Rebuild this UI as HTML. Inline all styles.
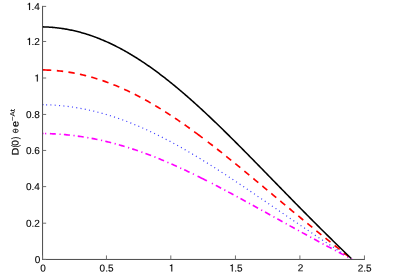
<!DOCTYPE html>
<html><head><meta charset="utf-8"><style>
html,body{margin:0;padding:0;background:#fff;}
svg{display:block;will-change:transform}
text{font-family:"Liberation Sans",sans-serif;font-size:10px;fill:#000;text-rendering:geometricPrecision;stroke:#000;stroke-width:0.12px}
</style></head><body>
<svg width="393" height="274" viewBox="0 0 393 274">
<defs><filter id="gs" x="0" y="0" width="393" height="274" filterUnits="userSpaceOnUse"><feOffset dx="0" dy="0"/></filter></defs>
<rect width="393" height="274" fill="#fff"/>
<g>
<path d="M42.44 133.51 L43.54 133.52 M45.04 133.55 L46.24 133.57 M49.90 133.68 L51.40 133.74 L52.90 133.81 L54.39 133.88 L55.89 133.97 M59.48 134.20 L60.68 134.29 M63.87 134.54 L65.36 134.68 L66.86 134.82 L68.35 134.97 L69.84 135.13 M73.42 135.54 L74.61 135.68 M77.78 136.10 L79.27 136.31 L80.75 136.52 L82.23 136.75 L83.72 136.98 M87.27 137.57 L88.45 137.77 M91.60 138.35 L93.07 138.63 L94.54 138.92 L96.01 139.21 L97.48 139.51 M101.00 140.27 L102.17 140.53 M105.29 141.26 L106.75 141.60 L108.21 141.96 L109.66 142.32 L111.12 142.69 M114.60 143.61 L115.76 143.92 M118.84 144.78 L120.28 145.19 L121.72 145.61 L123.16 146.04 L124.60 146.47 M128.04 147.53 L129.18 147.89 M132.23 148.88 L133.65 149.35 L135.07 149.82 L136.49 150.30 L137.91 150.79 M141.31 151.98 L142.44 152.38 M145.45 153.48 L146.86 154.00 L148.26 154.52 L149.66 155.05 L151.06 155.59 M154.42 156.89 L155.54 157.33 M158.51 158.52 L159.90 159.09 L161.28 159.66 L162.67 160.23 L164.05 160.81 M167.37 162.21 L168.47 162.69 M171.41 163.96 L172.78 164.56 L174.15 165.17 L175.52 165.78 L176.89 166.39 M180.17 167.88 L181.26 168.38 M184.16 169.73 L185.52 170.36 L186.88 171.00 L188.24 171.64 L189.59 172.29 M192.84 173.84 L193.92 174.37 M197.55 176.14 L198.89 176.80 L200.24 177.47 L201.58 178.14 L202.92 178.81 L204.26 179.48 L205.60 180.16 L206.94 180.83 M211.84 183.34 L212.90 183.88 M215.80 185.38 L217.13 186.08 L218.46 186.77 L219.79 187.47 L221.12 188.16 M224.30 189.85 L225.36 190.41 M228.18 191.91 L229.51 192.62 L230.83 193.33 L232.15 194.04 L233.47 194.75 M236.64 196.46 L237.69 197.03 M240.50 198.56 L241.82 199.28 L243.14 199.99 L244.46 200.71 L245.77 201.43 M248.93 203.16 L249.98 203.74 M252.78 205.29 L254.10 206.01 L255.41 206.73 L256.72 207.46 L258.04 208.19 M261.19 209.93 L262.23 210.51 M265.03 212.06 L266.35 212.79 L267.66 213.52 L268.97 214.24 L270.28 214.97 M273.43 216.72 L274.48 217.30 M277.28 218.85 L278.59 219.58 L279.90 220.31 L281.21 221.04 L282.52 221.76 M285.67 223.51 L286.72 224.09 M289.52 225.64 L290.83 226.36 L292.15 227.09 L293.46 227.81 L294.77 228.54 M297.93 230.27 L298.98 230.85 M301.79 232.39 L303.10 233.11 L304.42 233.83 L305.73 234.55 L307.05 235.27 M310.21 236.99 L311.26 237.57 M314.08 239.09 L315.40 239.81 L316.72 240.52 L318.04 241.23 L319.36 241.95 M322.53 243.65 L323.58 244.22 M326.40 245.73 L327.73 246.44 L329.05 247.14 L330.37 247.85 L331.70 248.55 M334.88 250.24 L335.94 250.80 M338.77 252.29 L340.10 252.99 L341.43 253.69 L342.75 254.39 L344.08 255.08 M347.27 256.75 L348.34 257.30 M351.18 258.78 L352.03 259.22 " fill="none" stroke="#ff00ff" stroke-width="1.65"/>
<polyline points="42.24,104.70 43.27,104.72 44.31,104.74 45.34,104.76 46.37,104.79 47.41,104.82 48.44,104.86 49.47,104.90 50.51,104.95 51.54,105.00 52.57,105.06 53.61,105.12 54.64,105.18 55.68,105.25 56.71,105.33 57.74,105.41 58.78,105.49 59.81,105.58 60.84,105.68 61.88,105.77 62.91,105.88 63.94,105.99 64.98,106.10 66.01,106.22 67.04,106.34 68.08,106.46 69.11,106.60 70.14,106.73 71.18,106.87 72.21,107.02 73.24,107.17 74.28,107.33 75.31,107.49 76.34,107.65 77.38,107.82 78.41,108.00 79.45,108.18 80.48,108.36 81.51,108.55 82.55,108.75 83.58,108.95 84.61,109.15 85.65,109.36 86.68,109.57 87.71,109.79 88.75,110.01 89.78,110.24 90.81,110.47 91.85,110.71 92.88,110.95 93.91,111.20 94.95,111.45 95.98,111.71 97.01,111.97 98.05,112.23 99.08,112.50 100.12,112.78 101.15,113.06 102.18,113.34 103.22,113.63 104.25,113.93 105.28,114.22 106.32,114.53 107.35,114.84 108.38,115.15 109.42,115.46 110.45,115.79 111.48,116.11 112.52,116.44 113.55,116.78 114.58,117.12 115.62,117.46 116.65,117.81 117.68,118.16 118.72,118.52 119.75,118.88 120.78,119.25 121.82,119.62 122.85,119.99 123.89,120.37 124.92,120.76 125.95,121.15 126.99,121.54 128.02,121.93 129.05,122.34 130.09,122.74 131.12,123.15 132.15,123.56 133.19,123.98 134.22,124.40 135.25,124.83 136.29,125.26 137.32,125.69 138.35,126.13 139.39,126.57 140.42,127.02 141.45,127.47 142.49,127.93 143.52,128.38 144.55,128.85 145.59,129.31 146.62,129.78 147.66,130.26 148.69,130.73 149.72,131.21 150.76,131.70 151.79,132.19 152.82,132.68 153.86,133.18 154.89,133.68 155.92,134.18 156.96,134.69 157.99,135.20 159.02,135.71 160.06,136.23 161.09,136.75 162.12,137.27 163.16,137.80 164.19,138.33 165.22,138.87 166.26,139.41 167.29,139.95 168.32,140.49 169.36,141.04 170.39,141.59 171.43,142.14 172.46,142.70 173.49,143.26 174.53,143.83 175.56,144.39 176.59,144.96 177.63,145.53 178.66,146.11 179.69,146.69 180.73,147.27 181.76,147.85 182.79,148.44 183.83,149.03 184.86,149.62 185.89,150.22 186.93,150.81 187.96,151.42 188.99,152.02 190.03,152.62 191.06,153.23 192.09,153.84 193.13,154.46 194.16,155.07 195.20,155.69 196.23,156.31 197.26,156.93 198.30,157.56 199.33,158.19 200.36,158.82 201.40,159.45 202.43,160.08 203.46,160.72 204.50,161.36 205.53,162.00 206.56,162.64 207.60,163.28 208.63,163.93 209.66,164.58 210.70,165.23 211.73,165.88 212.76,166.54 213.80,167.19 214.83,167.85 215.87,168.51 216.90,169.17 217.93,169.83 218.97,170.50 220.00,171.16 221.03,171.83 222.07,172.50 223.10,173.17 224.13,173.84 225.17,174.52 226.20,175.19 227.23,175.87 228.27,176.55 229.30,177.22 230.33,177.90 231.37,178.59 232.40,179.27 233.43,179.95 234.47,180.64 235.50,181.32 236.53,182.01 237.57,182.70 238.60,183.39 239.64,184.08 240.67,184.77 241.70,185.46 242.74,186.15 243.77,186.85 244.80,187.54 245.84,188.24 246.87,188.93 247.90,189.63 248.94,190.33 249.97,191.03 251.00,191.72 252.04,192.42 253.07,193.12 254.10,193.82 255.14,194.52 256.17,195.23 257.20,195.93 258.24,196.63 259.27,197.33 260.30,198.04 261.34,198.74 262.37,199.44 263.41,200.15 264.44,200.85 265.47,201.56 266.51,202.26 267.54,202.96 268.57,203.67 269.61,204.37 270.64,205.08 271.67,205.78 272.71,206.49 273.74,207.19 274.77,207.90 275.81,208.60 276.84,209.31 277.87,210.01 278.91,210.72 279.94,211.42 280.97,212.13 282.01,212.83 283.04,213.54 284.07,214.24 285.11,214.94 286.14,215.65 287.18,216.35 288.21,217.05 289.24,217.76 290.28,218.46 291.31,219.16 292.34,219.86 293.38,220.56 294.41,221.26 295.44,221.96 296.48,222.66 297.51,223.36 298.54,224.06 299.58,224.76 300.61,225.45 301.64,226.15 302.68,226.85 303.71,227.54 304.74,228.24 305.78,228.93 306.81,229.62 307.84,230.32 308.88,231.01 309.91,231.70 310.95,232.39 311.98,233.08 313.01,233.77 314.05,234.46 315.08,235.15 316.11,235.84 317.15,236.52 318.18,237.21 319.21,237.89 320.25,238.58 321.28,239.26 322.31,239.94 323.35,240.63 324.38,241.31 325.41,241.99 326.45,242.67 327.48,243.35 328.51,244.02 329.55,244.70 330.58,245.38 331.62,246.05 332.65,246.73 333.68,247.40 334.72,248.07 335.75,248.75 336.78,249.42 337.82,250.09 338.85,250.76 339.88,251.42 340.92,252.09 341.95,252.76 342.98,253.42 344.02,254.09 345.05,254.75 346.08,255.42 347.12,256.08 348.15,256.74 349.18,257.40 350.22,258.06 351.25,258.72" fill="none" stroke="#3c3cff" stroke-width="1.2" stroke-dasharray="1.05,3.28" stroke-dashoffset="0.5"/>
<line x1="42.6" y1="104.70" x2="43.5" y2="104.72" stroke="#3c3cff" stroke-width="1.2"/>
<path d="M42.34 69.91 L44.13 69.94 L45.92 70.00 L47.71 70.07 L49.50 70.15 L51.28 70.26 M56.82 70.68 L58.41 70.84 L60.00 71.00 L61.59 71.19 L63.18 71.38 M68.43 72.12 L70.01 72.37 L71.58 72.64 L73.16 72.92 L74.73 73.21 M79.92 74.27 L81.49 74.62 L83.04 74.98 L84.60 75.35 L86.15 75.74 M91.27 77.11 L92.81 77.54 L94.35 78.00 L95.88 78.46 L97.41 78.93 M102.44 80.58 L103.96 81.11 L105.46 81.64 L106.97 82.18 L108.47 82.74 M113.41 84.65 L114.90 85.24 L116.38 85.85 L117.85 86.47 L119.33 87.10 M124.17 89.24 L125.63 89.90 L127.08 90.58 L128.53 91.26 L129.97 91.95 M134.72 94.30 L136.15 95.02 L137.57 95.75 L138.99 96.49 L140.40 97.24 M145.06 99.77 L146.46 100.54 L147.86 101.33 L149.25 102.12 L150.64 102.91 M155.21 105.60 L156.58 106.42 L157.95 107.24 L159.32 108.08 L160.68 108.92 M165.17 111.73 L166.52 112.59 L167.86 113.46 L169.21 114.33 L170.55 115.20 M174.96 118.13 L176.29 119.03 L177.61 119.92 L178.94 120.83 L180.25 121.73 M184.60 124.76 L185.91 125.68 L187.22 126.61 L188.52 127.54 L189.82 128.47 M194.19 131.64 L195.41 132.54 L196.63 133.43 L197.85 134.33 L199.06 135.24 L200.28 136.14 L201.49 137.05 L202.70 137.96 M207.80 141.83 L209.07 142.81 L210.33 143.78 L211.60 144.76 L212.86 145.74 M217.04 149.00 L218.30 149.99 L219.56 150.98 L220.81 151.98 L222.06 152.97 M226.21 156.28 L227.46 157.28 L228.70 158.28 L229.95 159.28 L231.19 160.29 M235.31 163.63 L236.55 164.64 L237.79 165.65 L239.03 166.66 L240.27 167.67 M244.36 171.04 L245.60 172.06 L246.83 173.07 L248.06 174.09 L249.30 175.11 M253.38 178.50 L254.61 179.52 L255.84 180.54 L257.07 181.56 L258.30 182.59 M262.37 185.98 L263.60 187.01 L264.83 188.03 L266.06 189.06 L267.28 190.08 M271.35 193.48 L272.58 194.51 L273.81 195.53 L275.03 196.56 L276.26 197.59 M280.33 200.98 L281.56 202.01 L282.78 203.03 L284.01 204.06 L285.24 205.08 M289.31 208.48 L290.54 209.50 L291.77 210.52 L293.00 211.55 L294.23 212.57 M298.32 215.95 L299.55 216.97 L300.78 217.99 L302.01 219.01 L303.25 220.03 M307.34 223.40 L308.58 224.41 L309.82 225.43 L311.05 226.44 L312.29 227.45 M316.40 230.80 L317.64 231.81 L318.88 232.82 L320.12 233.83 L321.37 234.84 M325.49 238.17 L326.73 239.17 L327.98 240.17 L329.23 241.18 L330.48 242.18 M334.62 245.49 L335.87 246.48 L337.12 247.48 L338.37 248.47 L339.63 249.47 M343.79 252.75 L345.04 253.74 L346.30 254.73 L347.56 255.72 L348.82 256.71" fill="none" stroke="#ff0000" stroke-width="1.65"/>
<polyline points="42.24,26.86 43.27,26.88 44.31,26.91 45.34,26.94 46.37,26.99 47.41,27.04 48.44,27.09 49.47,27.16 50.51,27.23 51.54,27.30 52.57,27.39 53.61,27.48 54.64,27.58 55.68,27.69 56.71,27.80 57.74,27.92 58.78,28.04 59.81,28.18 60.84,28.32 61.88,28.47 62.91,28.62 63.94,28.78 64.98,28.95 66.01,29.13 67.04,29.31 68.08,29.51 69.11,29.70 70.14,29.91 71.18,30.12 72.21,30.34 73.24,30.57 74.28,30.80 75.31,31.04 76.34,31.29 77.38,31.55 78.41,31.81 79.45,32.08 80.48,32.36 81.51,32.65 82.55,32.94 83.58,33.24 84.61,33.54 85.65,33.86 86.68,34.18 87.71,34.51 88.75,34.84 89.78,35.18 90.81,35.53 91.85,35.89 92.88,36.25 93.91,36.63 94.95,37.00 95.98,37.39 97.01,37.78 98.05,38.18 99.08,38.59 100.12,39.00 101.15,39.42 102.18,39.85 103.22,40.28 104.25,40.73 105.28,41.18 106.32,41.63 107.35,42.09 108.38,42.56 109.42,43.04 110.45,43.52 111.48,44.01 112.52,44.51 113.55,45.01 114.58,45.52 115.62,46.04 116.65,46.57 117.68,47.10 118.72,47.63 119.75,48.18 120.78,48.73 121.82,49.29 122.85,49.85 123.89,50.42 124.92,51.00 125.95,51.58 126.99,52.17 128.02,52.77 129.05,53.37 130.09,53.98 131.12,54.60 132.15,55.22 133.19,55.85 134.22,56.48 135.25,57.12 136.29,57.77 137.32,58.42 138.35,59.08 139.39,59.75 140.42,60.42 141.45,61.09 142.49,61.78 143.52,62.47 144.55,63.16 145.59,63.86 146.62,64.57 147.66,65.28 148.69,66.00 149.72,66.72 150.76,67.45 151.79,68.19 152.82,68.93 153.86,69.67 154.89,70.43 155.92,71.18 156.96,71.95 157.99,72.71 159.02,73.49 160.06,74.26 161.09,75.05 162.12,75.84 163.16,76.63 164.19,77.43 165.22,78.23 166.26,79.04 167.29,79.86 168.32,80.68 169.36,81.50 170.39,82.33 171.43,83.16 172.46,84.00 173.49,84.84 174.53,85.69 175.56,86.54 176.59,87.40 177.63,88.26 178.66,89.12 179.69,89.99 180.73,90.87 181.76,91.75 182.79,92.63 183.83,93.51 184.86,94.41 185.89,95.30 186.93,96.20 187.96,97.10 188.99,98.01 190.03,98.92 191.06,99.84 192.09,100.75 193.13,101.68 194.16,102.60 195.20,103.53 196.23,104.46 197.26,105.40 198.30,106.34 199.33,107.28 200.36,108.23 201.40,109.18 202.43,110.14 203.46,111.09 204.50,112.05 205.53,113.02 206.56,113.98 207.60,114.95 208.63,115.92 209.66,116.90 210.70,117.88 211.73,118.86 212.76,119.84 213.80,120.83 214.83,121.82 215.87,122.81 216.90,123.80 217.93,124.80 218.97,125.80 220.00,126.80 221.03,127.80 222.07,128.81 223.10,129.82 224.13,130.83 225.17,131.84 226.20,132.86 227.23,133.87 228.27,134.89 229.30,135.91 230.33,136.94 231.37,137.96 232.40,138.99 233.43,140.02 234.47,141.05 235.50,142.08 236.53,143.11 237.57,144.15 238.60,145.18 239.64,146.22 240.67,147.26 241.70,148.30 242.74,149.34 243.77,150.39 244.80,151.43 245.84,152.48 246.87,153.52 247.90,154.57 248.94,155.62 249.97,156.67 251.00,157.72 252.04,158.77 253.07,159.82 254.10,160.88 255.14,161.93 256.17,162.99 257.20,164.04 258.24,165.10 259.27,166.15 260.30,167.21 261.34,168.27 262.37,169.33 263.41,170.39 264.44,171.44 265.47,172.50 266.51,173.56 267.54,174.62 268.57,175.68 269.61,176.74 270.64,177.80 271.67,178.86 272.71,179.92 273.74,180.98 274.77,182.04 275.81,183.10 276.84,184.16 277.87,185.22 278.91,186.28 279.94,187.34 280.97,188.40 282.01,189.46 283.04,190.52 284.07,191.58 285.11,192.64 286.14,193.70 287.18,194.75 288.21,195.81 289.24,196.87 290.28,197.92 291.31,198.98 292.34,200.03 293.38,201.08 294.41,202.14 295.44,203.19 296.48,204.24 297.51,205.29 298.54,206.34 299.58,207.39 300.61,208.44 301.64,209.49 302.68,210.54 303.71,211.58 304.74,212.63 305.78,213.67 306.81,214.71 307.84,215.76 308.88,216.80 309.91,217.84 310.95,218.88 311.98,219.91 313.01,220.95 314.05,221.99 315.08,223.02 316.11,224.06 317.15,225.09 318.18,226.12 319.21,227.15 320.25,228.18 321.28,229.21 322.31,230.23 323.35,231.26 324.38,232.28 325.41,233.31 326.45,234.33 327.48,235.35 328.51,236.37 329.55,237.39 330.58,238.40 331.62,239.42 332.65,240.43 333.68,241.45 334.72,242.46 335.75,243.47 336.78,244.48 337.82,245.48 338.85,246.49 339.88,247.50 340.92,248.50 341.95,249.50 342.98,250.51 344.02,251.51 345.05,252.50 346.08,253.50 347.12,254.50 348.15,255.49 349.18,256.49 350.22,257.48 351.25,258.47" fill="none" stroke="#000" stroke-width="1.55"/>
</g>
<g>
<line x1="42.57" y1="5.9" x2="42.57" y2="259.95" stroke="#4a4a4a" stroke-width="1"/>
<line x1="42.07" y1="259.45" x2="364.94" y2="259.45" stroke="#4a4a4a" stroke-width="1"/>
<line x1="42.57" y1="259.4" x2="46.17" y2="259.4" stroke="#707070" stroke-width="1"/>
<line x1="42.57" y1="223.2" x2="46.17" y2="223.2" stroke="#707070" stroke-width="1"/>
<line x1="42.57" y1="186.6" x2="46.17" y2="186.6" stroke="#707070" stroke-width="1"/>
<line x1="42.57" y1="150.44" x2="46.17" y2="150.44" stroke="#707070" stroke-width="1"/>
<line x1="42.57" y1="114.44" x2="46.17" y2="114.44" stroke="#707070" stroke-width="1"/>
<line x1="42.57" y1="78.0" x2="46.17" y2="78.0" stroke="#707070" stroke-width="1"/>
<line x1="42.57" y1="41.47" x2="46.17" y2="41.47" stroke="#707070" stroke-width="1"/>
<line x1="42.57" y1="6.4" x2="46.17" y2="6.4" stroke="#707070" stroke-width="1"/>
<line x1="42.57" y1="259.45" x2="42.57" y2="255.45" stroke="#707070" stroke-width="1"/>
<line x1="106.44" y1="259.45" x2="106.44" y2="255.45" stroke="#707070" stroke-width="1"/>
<line x1="170.8" y1="259.45" x2="170.8" y2="255.45" stroke="#707070" stroke-width="1"/>
<line x1="235.44" y1="259.45" x2="235.44" y2="255.45" stroke="#707070" stroke-width="1"/>
<line x1="299.9" y1="259.45" x2="299.9" y2="255.45" stroke="#707070" stroke-width="1"/>
<line x1="364.44" y1="259.45" x2="364.44" y2="255.45" stroke="#707070" stroke-width="1"/>
</g>
<g filter="url(#gs)">
<text transform="translate(40.30,262.90) rotate(0.05)" text-anchor="end">0</text>
<text transform="translate(39.80,226.70) rotate(0.05)" text-anchor="end">0.2</text>
<text transform="translate(39.80,190.10) rotate(0.05)" text-anchor="end">0.4</text>
<text transform="translate(39.80,153.94) rotate(0.05)" text-anchor="end">0.6</text>
<text transform="translate(39.80,117.94) rotate(0.05)" text-anchor="end">0.8</text>
<path transform="translate(33.64,81.50)" d="M3.2,0 L3.2,-5.3 L1.7,-5.3 L1.7,-6.0 C2.7,-6.05 3.3,-6.4 3.5,-7.1 L4.15,-7.1 L4.15,0 Z" fill="#000" stroke="#000" stroke-width="0.1"/>
<path transform="translate(25.90,44.97)" d="M3.2,0 L3.2,-5.3 L1.7,-5.3 L1.7,-6.0 C2.7,-6.05 3.3,-6.4 3.5,-7.1 L4.15,-7.1 L4.15,0 Z" fill="#000" stroke="#000" stroke-width="0.1"/><text transform="translate(31.46,44.97) rotate(0.05)">.2</text>
<path transform="translate(25.90,9.90)" d="M3.2,0 L3.2,-5.3 L1.7,-5.3 L1.7,-6.0 C2.7,-6.05 3.3,-6.4 3.5,-7.1 L4.15,-7.1 L4.15,0 Z" fill="#000" stroke="#000" stroke-width="0.1"/><text transform="translate(31.46,9.90) rotate(0.05)">.4</text>
<text transform="translate(43.07,271.40) rotate(0.05)" text-anchor="middle">0</text>
<text transform="translate(106.54,271.40) rotate(0.05)" text-anchor="middle">0.5</text>
<path transform="translate(168.12,271.40)" d="M3.2,0 L3.2,-5.3 L1.7,-5.3 L1.7,-6.0 C2.7,-6.05 3.3,-6.4 3.5,-7.1 L4.15,-7.1 L4.15,0 Z" fill="#000" stroke="#000" stroke-width="0.1"/>
<path transform="translate(228.59,271.40)" d="M3.2,0 L3.2,-5.3 L1.7,-5.3 L1.7,-6.0 C2.7,-6.05 3.3,-6.4 3.5,-7.1 L4.15,-7.1 L4.15,0 Z" fill="#000" stroke="#000" stroke-width="0.1"/><text transform="translate(234.15,271.40) rotate(0.05)">.5</text>
<text transform="translate(300.45,271.20) rotate(0.05)" text-anchor="middle">2</text>
<text transform="translate(364.69,271.40) rotate(0.05)" text-anchor="middle">2.5</text>
<text transform="translate(18.4,155.30) rotate(-90.05) scale(1.05,0.95)" style="font-size:10px;stroke-width:0.18px">D</text>
<text transform="translate(18.4,147.61) rotate(-90.05) scale(0.75,1.0)" style="font-size:10px;stroke-width:0.1px">(</text>
<text transform="translate(18.4,145.78) rotate(-90.05) scale(1.0,0.96)" style="font-size:10px;stroke-width:0.18px">0</text>
<text transform="translate(18.4,139.24) rotate(-90.05) scale(0.75,1.0)" style="font-size:10px;stroke-width:0.1px">)</text>
<text transform="translate(18.45,126.94) rotate(-90.05) scale(1.08,1.0)" style="font-size:10px;stroke-width:0.18px">e</text>
<text transform="translate(14.7,120.95) rotate(-90.05) scale(1.05,0.89)" style="font-size:7.5px;stroke-width:0.12px">−</text>
<text transform="translate(14.7,116.53) rotate(-90.05) scale(1.05,0.89)" style="font-size:7.5px;stroke-width:0.12px">A</text>
<text transform="translate(14.7,111.28) rotate(-90.05) scale(1.05,0.89)" style="font-size:7.5px;stroke-width:0.12px">t</text>
<ellipse cx="15.6" cy="130.85" rx="2.6" ry="1.75" fill="none" stroke="#000" stroke-width="0.78"/>
<line x1="15.6" y1="129.2" x2="15.6" y2="132.5" stroke="#000" stroke-width="0.8"/>
</g>
</svg>
</body></html>
